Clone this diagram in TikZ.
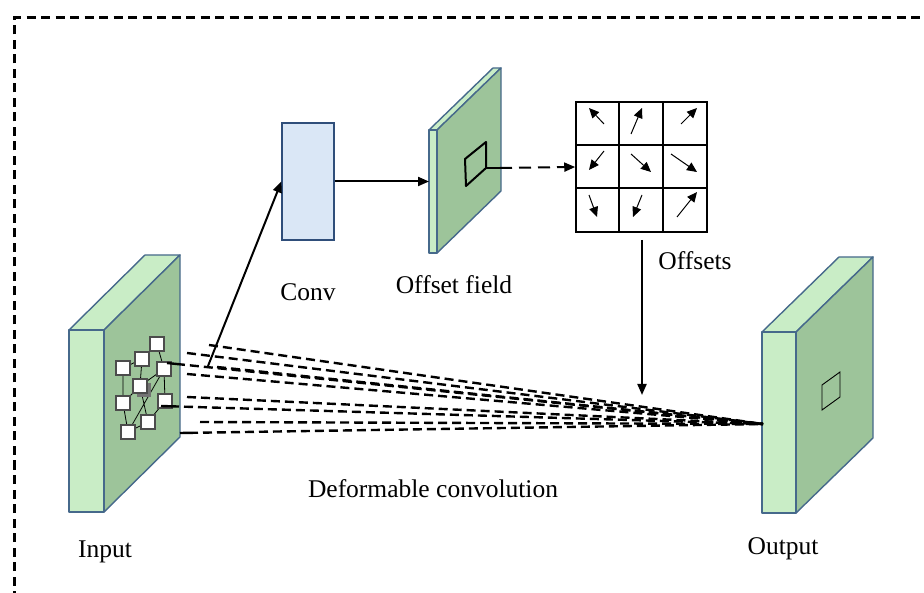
\documentclass[tikz,border=0pt]{standalone}
\usepackage{fontspec}
\setmainfont{Liberation Serif}
\usetikzlibrary{arrows.meta,calc}
\definecolor{slablight}{HTML}{C9EDC6}
\definecolor{slabdark}{HTML}{9DC49A}
\definecolor{slabedge}{HTML}{46698B}
\definecolor{convfill}{HTML}{DAE7F6}
\definecolor{convedge}{HTML}{2F4E7A}
\begin{document}
\begin{tikzpicture}[x=1pt,y=-1pt,
  slabline/.style={draw=slabedge,line width=1.4pt,line join=round},
  fan/.style={line width=2.4pt,dash pattern=on 9pt off 5pt},
  link/.style={line width=2pt,-{Triangle[length=11pt,width=9pt]}},
  lbl/.style={font=\fontsize{25.5}{30}\selectfont,inner sep=0pt},
  cellarrow/.style={line width=1pt,-{Triangle[length=10pt,width=9pt]}},
  tile/.style={draw=black!70,fill=white,line width=1.6pt,minimum size=14pt,inner sep=0pt},
  gridline/.style={line width=1.5pt}]
\useasboundingbox (0,0) rectangle (924,593);

% dashed frame
\draw[line width=3pt,dash pattern=on 9pt off 5.5pt] (14,600) -- (14,18) -- (935,18);

% input slab
\filldraw[slabline,fill=slablight] (69,330) -- (145,255) -- (180,255) -- (104,330) -- cycle;
\filldraw[slabline,fill=slabdark] (104,330) -- (180,255) -- (180,437) -- (104,512) -- cycle;
\filldraw[slabline,fill=slablight] (69,330) rectangle (104,512);

% output slab
\filldraw[slabline,fill=slablight] (762,332) -- (839,257) -- (873,257) -- (796,332) -- cycle;
\filldraw[slabline,fill=slabdark] (796,332) -- (873,257) -- (873,438) -- (796,513) -- cycle;
\filldraw[slabline,fill=slablight] (762,332) rectangle (796,513);
\draw[line width=0.9pt] (822,385) -- (840,372) -- (840,397) -- (822,410) -- cycle;

% offset field plate
\filldraw[slabline,fill=slablight] (429,130) -- (493,68) -- (501,68) -- (437,130) -- cycle;
\filldraw[slabline,fill=slabdark] (437,130) -- (501,68) -- (501,191) -- (437,253) -- cycle;
\filldraw[slabline,fill=slablight] (429,130) rectangle (437,253);
\draw[line width=2pt,line join=round] (465,159) -- (486,142) -- (486,168) -- (466,186) -- cycle;
\coordinate (fieldpt) at (486,168);
\coordinate (fieldout) at (500,168);

% sampling grid on the input
\coordinate (g1) at (123,368);
\coordinate (g2) at (142,359);
\coordinate (g3) at (157,344);
\coordinate (g4) at (123,403);
\coordinate (g5) at (140,386);
\coordinate (g6) at (164,369);
\coordinate (g7) at (128,432);
\coordinate (g8) at (148,422);
\coordinate (g9) at (165,401);
\draw[line width=0.8pt] (g1) -- (g4) -- (g7) (g2) -- (g5) -- (g8) (g3) -- (g6) -- (g9)
  (g1) -- (g2) -- (g3) (g4) -- (g5) -- (g6) (g7) -- (g8) -- (g9) (g7) -- (g6);
\fill[black!55] (144,390) ++(-7,-7) rectangle ++(14,14);
\foreach \i in {1,...,9} \node[tile] (t\i) at (g\i) {};

% conv box
\node[draw=convedge,fill=convfill,line width=1.2pt,minimum width=52pt,minimum height=117pt,inner sep=0pt] (conv) at (308,181.5) {};
\node[lbl] (convlbl) at (308,292) {Conv};

% offsets grid
\node[draw,gridline,minimum width=131pt,minimum height=130pt,inner sep=0pt] (grid) at (641.5,167) {};
\draw[gridline] (619,102) -- (619,232) (663,102) -- (663,232) (576,145) -- (707,145) (576,188) -- (707,188);
\draw[cellarrow] (604,124) -- (589,108);
\draw[cellarrow] (631,134) -- (642,108);
\draw[cellarrow] (681,124) -- (697,108);
\draw[cellarrow] (604,151) -- (589,170);
\draw[cellarrow] (631,154) -- (651,172);
\draw[cellarrow] (671,154) -- (697,172);
\draw[cellarrow] (589,195) -- (597,217);
\draw[cellarrow] (642,195) -- (633,217);
\draw[cellarrow] (677,217) -- (697,192);

% labels
\node[lbl] (fieldlbl) at (454,285) {Offset field};
\node[lbl] (offlbl) at (695,261) {Offsets};
\node[lbl] (deflbl) at (433,489) {Deformable convolution};
\node[lbl] (inlbl) at (105,552) {Input};
\node[lbl] (outlbl) at (783,549) {Output};

% fan of sampled positions into the output
\coordinate (focus) at (763,424);
\coordinate (s1) at (209,345);
\coordinate (s2) at (187,353);
\coordinate (s3) at (167,363);
\coordinate (s4) at (217,367);
\coordinate (s5) at (187,374);
\coordinate (s6) at (187,397);
\coordinate (s7) at (161,406);
\coordinate (s8) at (200,422);
\coordinate (s9) at (180,433);
\foreach \i in {1,2,4,5,6,8} \draw[fan] (s\i) -- (focus);
\foreach \i in {3,7,9} {
  \draw[line width=2.4pt] (s\i) -- ($(s\i)!18pt!(focus)$);
  \draw[fan] ($(s\i)!23pt!(focus)$) -- (focus);
}

% connectors
\coordinate (convsrc) at (208,366);
\draw[link] (convsrc) -- (conv.west);
\draw[link] (conv.east) -- (429,181.5);
\draw[line width=2pt] (fieldpt) -- (fieldout);
\draw[line width=2pt,dash pattern=on 12pt off 7pt,-{Triangle[length=11pt,width=9pt]}] (fieldout) -- (grid.west);
\coordinate (offsrc) at (642,240);
\coordinate (offdst) at (642,395);
\draw[link] (offsrc) -- (offdst);
\end{tikzpicture}
\end{document}
